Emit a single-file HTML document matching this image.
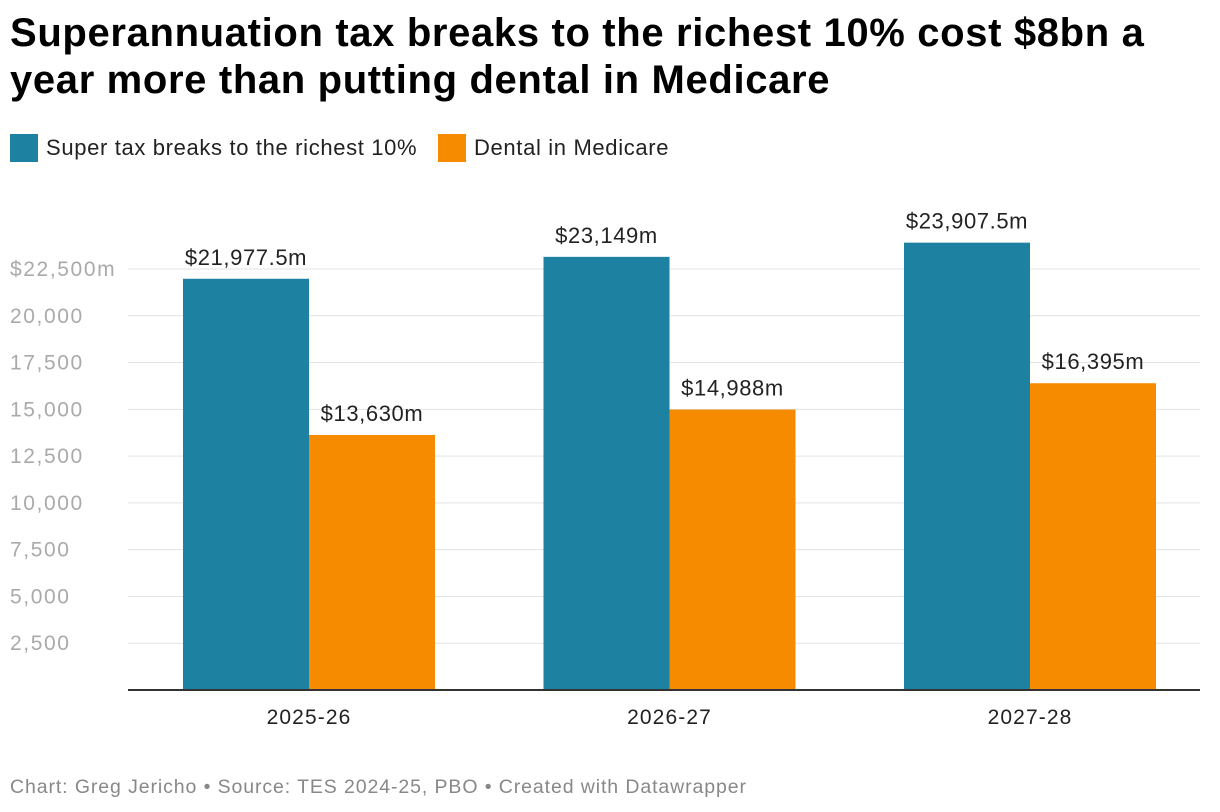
<!DOCTYPE html>
<html><head><meta charset="utf-8"><style>
body{margin:0;background:#fff;font-family:"Liberation Sans",Arial,sans-serif;}
#wrap{position:relative;width:1220px;height:812px;overflow:hidden;}
h1{position:absolute;left:10px;top:10px;width:1180px;margin:0;font-size:40px;line-height:47px;font-weight:bold;color:#000;letter-spacing:0.65px;}
.leg{position:absolute;top:134px;height:28px;display:flex;align-items:center;font-size:22px;letter-spacing:0.65px;color:#222;}
.sw{width:28px;height:28px;margin-right:8px;}
#foot{position:absolute;left:10px;top:776px;font-size:19.5px;letter-spacing:0.9px;color:#888;}
</style></head><body>
<div id="wrap">
<h1>Superannuation tax breaks to the richest 10% cost $8bn a year more than putting dental in Medicare</h1>
<div class="leg" style="left:10px"><div class="sw" style="background:#1d81a2"></div>Super tax breaks to the richest 10%</div>
<div class="leg" style="left:438px"><div class="sw" style="background:#f78b00"></div>Dental in Medicare</div>
<svg id="svg" width="1220" height="812" style="position:absolute;left:0;top:0"></svg>
<div id="foot">Chart: Greg Jericho • Source: TES 2024-25, PBO • Created with Datawrapper</div>
</div>
<script>
const categories=["2025-26","2026-27","2027-28"];
const superVals=[21977.5,23149,23907.5];
const dentalVals=[13630,14988,16395];
const superLabels=["$21,977.5m","$23,149m","$23,907.5m"];
const dentalLabels=["$13,630m","$14,988m","$16,395m"];
const ticks=[2500,5000,7500,10000,12500,15000,17500,20000,22500];
const tickLabels=["2,500","5,000","7,500","10,000","12,500","15,000","17,500","20,000","$22,500m"];

const svg=document.getElementById('svg');
const NS="http://www.w3.org/2000/svg";
const y0=690,yTop=269,vTop=22500;
const y=v=>y0-(v/vTop)*(y0-yTop);
const x0=128,x1=1200;
const groupCenter=i=>309+i*360.5;
const barW=126;
const FF='Liberation Sans, sans-serif';
function mk(t,a,txt){const e=document.createElementNS(NS,t);for(const k in a)e.setAttribute(k,a[k]);if(txt!=null)e.textContent=txt;svg.appendChild(e);return e;}
ticks.forEach((t,i)=>{
 const g=mk('line',{x1:x0,x2:x1,y1:y(t),y2:y(t),stroke:'#e3e3e3','stroke-width':1});
 
 
 const l=mk('text',{x:10,y:y(t)+7,'font-size':21,'letter-spacing':1.6,fill:'#aaa','font-family':FF},tickLabels[i]);
 
 
});
categories.forEach((c,i)=>{
 const cx=groupCenter(i);
 const b1=mk('rect',{x:cx-barW,y:y(superVals[i]),width:barW,height:y0-y(superVals[i]),fill:'#1d81a2'});
 
 
 const b2=mk('rect',{x:cx,y:y(dentalVals[i]),width:barW,height:y0-y(dentalVals[i]),fill:'#f78b00'});
 
 
 const l1=mk('text',{x:cx-barW/2,y:y(superVals[i])-14,'text-anchor':'middle','font-size':22,'letter-spacing':0.6,fill:'#222','font-family':FF},superLabels[i]);
 
 
 const l2=mk('text',{x:cx+barW/2,y:y(dentalVals[i])-14,'text-anchor':'middle','font-size':22,'letter-spacing':0.6,fill:'#222','font-family':FF},dentalLabels[i]);
 
 
 const cl=mk('text',{x:cx,y:724,'text-anchor':'middle','font-size':21,'letter-spacing':1.1,fill:'#222','font-family':FF},c);
 
 
});
const ax=mk('line',{x1:x0,x2:x1,y1:y0,y2:y0,stroke:'#333','stroke-width':2});


</script>
</body></html>
